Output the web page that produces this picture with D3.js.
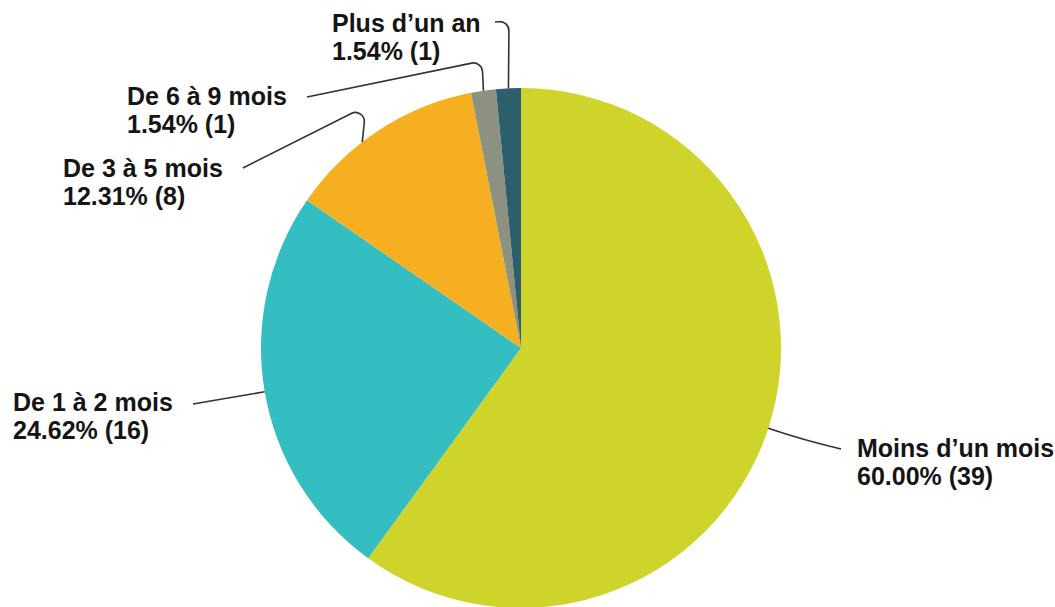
<!DOCTYPE html>
<html>
<head>
<meta charset="utf-8">
<script src="https://cdn.jsdelivr.net/npm/d3@7"></script>
<style>
  html, body { margin: 0; padding: 0; background: #ffffff; }
  svg { display: block; }
  .lbl { font-family: "Liberation Sans", Arial, sans-serif; font-weight: bold; font-size: 25px; fill: #151515; }
</style>
</head>
<body>
<svg id="chart" width="1055" height="607"></svg>
<script>
// Durée : répartition des réponses
const categories = ["Moins d’un mois", "De 1 à 2 mois", "De 3 à 5 mois", "De 6 à 9 mois", "Plus d’un an"];
const counts = [39, 16, 8, 1, 1];
const colors = ["#ced42a", "#35bec1", "#f5af20", "#8d917f", "#2c5e6c"];

// Label placement: text anchor (left x, first baseline), leader elbow and end.
const labelLayout = [
  { x: 857, y: 457, angleShift: 0,    elbow: null,       end: [841, 449] },
  { x: 13,  y: 411, angleShift: 0,    elbow: null,       end: [193, 404] },
  { x: 63,  y: 177, angleShift: -4.4, elbow: [366, 106], end: [243, 168] },
  { x: 127, y: 105, angleShift: 0,    elbow: [482, 61],  end: [307, 97] },
  { x: 332, y: 32,  angleShift: 0,    elbow: [509, 21],  end: [495, 22] }
];

const width = 1055, height = 607;
const cx = 521, cy = 348, radius = 260;
const total = d3.sum(counts);

const svg = d3.select("#chart");
const g = svg.append("g").attr("transform", `translate(${cx},${cy})`);

const data = categories.map((c, i) => ({ name: c, value: counts[i], color: colors[i], layout: labelLayout[i] }));

const pie = d3.pie().value(d => d.value).sort(null);
const arcs = pie(data);
const arc = d3.arc().innerRadius(0).outerRadius(radius);

g.selectAll("path.slice")
  .data(arcs)
  .join("path")
  .attr("class", "slice")
  .attr("d", arc)
  .attr("fill", d => d.data.color);

// Leader lines from the slice edge to each label
const lines = svg.append("g");
arcs.forEach(a => {
  const L = a.data.layout;
  const mid = (a.startAngle + a.endAngle) / 2 + L.angleShift * Math.PI / 180;
  const sx = cx + radius * Math.sin(mid);
  const sy = cy - radius * Math.cos(mid);
  const p = d3.path();
  p.moveTo(sx, sy);
  if (L.elbow) {
    p.arcTo(L.elbow[0], L.elbow[1], L.end[0], L.end[1], 9);
  } else {
    p.quadraticCurveTo((sx + L.end[0]) / 2, (sy + L.end[1]) / 2 + (L.end[0] > sx ? 2 : 0), L.end[0], L.end[1]);
  }
  p.lineTo(L.end[0], L.end[1]);
  lines.append("path")
    .attr("d", p.toString())
    .attr("fill", "none")
    .attr("stroke", "#333333")
    .attr("stroke-width", 1.6);
});

// Labels: name, then percentage and count
const fmt = d3.format(".2f");
const labels = svg.append("g");
arcs.forEach(a => {
  const L = a.data.layout;
  const t = labels.append("text").attr("class", "lbl");
  t.append("tspan").attr("x", L.x).attr("y", L.y).text(a.data.name);
  t.append("tspan").attr("x", L.x).attr("y", L.y + 28)
    .text(`${fmt(a.data.value / total * 100)}% (${a.data.value})`);
});
</script>
</body>
</html>
